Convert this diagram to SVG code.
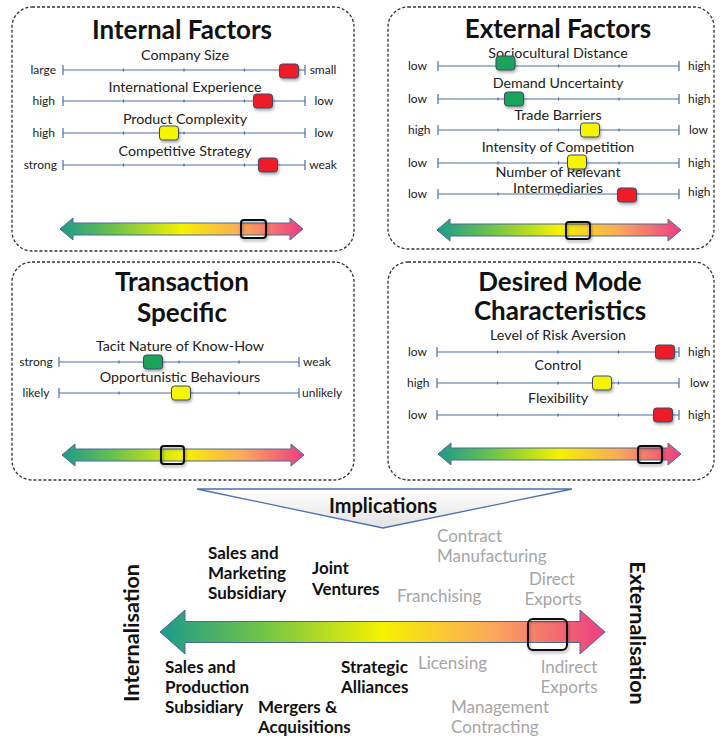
<svg xmlns="http://www.w3.org/2000/svg" width="720" height="740" viewBox="0 0 720 740">
<defs>
<linearGradient id="spec" x1="0" y1="0" x2="1" y2="0">
<stop offset="0" stop-color="#1e9a8a"/>
<stop offset="0.22" stop-color="#6cc24a"/>
<stop offset="0.5" stop-color="#f6f200"/>
<stop offset="0.75" stop-color="#fba75c"/>
<stop offset="1" stop-color="#ec3d82"/>
</linearGradient>
<linearGradient id="tri" x1="0" y1="0" x2="0" y2="1">
<stop offset="0" stop-color="#ffffff"/>
<stop offset="1" stop-color="#e2e2e2"/>
</linearGradient>
<filter id="sh" x="-30%" y="-30%" width="170%" height="180%">
<feDropShadow dx="1" dy="2" stdDeviation="1.5" flood-color="#000" flood-opacity="0.35"/>
</filter>
<style>
.panel{fill:none;stroke:#333;stroke-width:1.3;stroke-dasharray:3,2}
.title{font-family:Lato,"Open Sans",sans-serif;font-weight:bold;font-size:26px;fill:#111;text-anchor:middle}
.lbl{font-family:Lato,"Open Sans",sans-serif;font-size:14.3px;fill:#222;text-anchor:middle}
.ax{font-family:Lato,"Open Sans",sans-serif;font-size:12px;fill:#222}
.sl{fill:none;stroke:#4a6fa5;stroke-width:1.2}
.mk{stroke:#3a4a6a;stroke-width:1;filter:url(#sh)}
.red{fill:#ee1c25}.yel{fill:#f5f500}.grn{fill:#1ea35a}
.arr{fill:url(#spec);stroke:#4a6a9a;stroke-width:1}
.box{fill:none;stroke:#111;stroke-width:2;filter:url(#sh)}
.b{font-family:Lato,"Open Sans",sans-serif;font-weight:bold;font-size:17px;fill:#111}
.g{font-family:Lato,"Open Sans",sans-serif;font-size:17px;fill:#a6a6a6}
.side{font-family:Lato,"Open Sans",sans-serif;font-weight:bold;font-size:21.5px;fill:#111;text-anchor:middle}
</style>
</defs>

<g id="internal-factors">
<rect class="panel" x="12" y="7" width="342" height="244" rx="20"/>
<text class="title" x="182" y="39">Internal Factors</text>
<text class="lbl" x="185" y="60">Company Size</text>
<text class="lbl" x="185" y="92">International Experience</text>
<text class="lbl" x="185" y="124">Product Complexity</text>
<text class="lbl" x="185" y="156">Competitive Strategy</text>
<g class="ax" text-anchor="end">
<text x="56" y="74">large</text><text x="55" y="105">high</text><text x="55" y="137">high</text><text x="57" y="169">strong</text>
</g>
<g class="ax" text-anchor="middle">
<text x="323" y="74">small</text><text x="324" y="105">low</text><text x="324" y="137">low</text><text x="323" y="169">weak</text>
</g>
<path class="sl" d="M63 70H305M63 65V75M305 65V75M123.5 68.5V71.5M184 68.5V71.5M244.5 68.5V71.5
M63 101H305M63 96V106M305 96V106M123.5 99.5V102.5M184 99.5V102.5M244.5 99.5V102.5
M63 133H305M63 128V138M305 128V138M123.5 131.5V134.5M184 131.5V134.5M244.5 131.5V134.5
M63 165H305M63 160V170M305 160V170M123.5 163.5V166.5M184 163.5V166.5M244.5 163.5V166.5"/>
<rect class="mk red" x="279.5" y="64" width="19" height="14" rx="3"/>
<rect class="mk red" x="253.5" y="94" width="19" height="14" rx="3"/>
<rect class="mk yel" x="159.5" y="126" width="19" height="14" rx="3"/>
<rect class="mk red" x="258.5" y="158" width="19" height="14" rx="3"/>
<path class="arr" d="M60 229L73 218V223H290V218L303 229L290 240V235H73V240Z"/>
<rect class="box" x="241" y="220" width="25" height="18" rx="3"/>
</g>

<g id="external-factors">
<rect class="panel" x="388" y="7" width="326" height="242" rx="20"/>
<text class="title" x="558" y="38">External Factors</text>
<text class="lbl" x="558" y="58">Sociocultural Distance</text>
<text class="lbl" x="558" y="88">Demand Uncertainty</text>
<text class="lbl" x="558" y="120">Trade Barriers</text>
<text class="lbl" x="558" y="152">Intensity of Competition</text>
<text class="lbl" x="558" y="177">Number of Relevant</text>
<text class="lbl" x="558" y="193">Intermediaries</text>
<g class="ax">
<text x="408" y="70">low</text><text x="408" y="103">low</text><text x="408" y="134">high</text><text x="408" y="167">low</text><text x="408" y="198">low</text>
<text x="688" y="70">high</text><text x="688" y="103">high</text><text x="689" y="134">low</text><text x="688" y="167">high</text><text x="688" y="196">high</text>
</g>
<path class="sl" d="M438 66H679M438 61V71M679 61V71M498 64.5V67.5M558.5 64.5V67.5M619 64.5V67.5
M438 99H679M438 94V104M679 94V104M498 97.5V100.5M558.5 97.5V100.5M619 97.5V100.5
M438 130H679M438 125V135M679 125V135M498 128.5V131.5M558.5 128.5V131.5M619 128.5V131.5
M438 163H679M438 158V168M679 158V168M498 161.5V164.5M558.5 161.5V164.5M619 161.5V164.5
M438 194H679M438 189V199M679 189V199M498 192.5V195.5M558.5 192.5V195.5M619 192.5V195.5"/>
<rect class="mk grn" x="496" y="56" width="19" height="14" rx="3"/>
<rect class="mk grn" x="504.5" y="92" width="19" height="14" rx="3"/>
<rect class="mk yel" x="580.5" y="123" width="19" height="14" rx="3"/>
<rect class="mk yel" x="567.5" y="155" width="19" height="14" rx="3"/>
<rect class="mk red" x="617.5" y="188" width="19" height="14" rx="3"/>
<path class="arr" d="M437 230L450 219V224H668V219L681 230L668 241V236H450V241Z"/>
<rect class="box" x="566" y="222" width="24" height="17" rx="3"/>
</g>

<g id="transaction-specific">
<rect class="panel" x="12" y="262" width="342" height="218" rx="20"/>
<text class="title" x="182" y="291">Transaction</text>
<text class="title" x="182" y="322">Specific</text>
<text class="lbl" x="180" y="351">Tacit Nature of Know-How</text>
<text class="lbl" x="180" y="382">Opportunistic Behaviours</text>
<g class="ax" text-anchor="middle">
<text x="36" y="366">strong</text><text x="36" y="397">likely</text>
</g>
<g class="ax">
<text x="303" y="366">weak</text><text x="302" y="397">unlikely</text>
</g>
<path class="sl" d="M59 362H299M59 357V367M299 357V367M119 360.5V363.5M179 360.5V363.5M239 360.5V363.5
M59 393H299M59 388V398M299 388V398M119 391.5V394.5M179 391.5V394.5M239 391.5V394.5"/>
<rect class="mk grn" x="143.5" y="355" width="19" height="14" rx="3"/>
<rect class="mk yel" x="171.5" y="386" width="19" height="14" rx="3"/>
<path class="arr" d="M62 455L75 444V449H291V444L304 455L291 466V461H75V466Z"/>
<rect class="box" x="161" y="446" width="23" height="18" rx="3"/>
</g>

<g id="desired-mode">
<rect class="panel" x="388" y="262" width="326" height="218" rx="20"/>
<text class="title" x="560" y="291">Desired Mode</text>
<text class="title" x="560" y="320">Characteristics</text>
<text class="lbl" x="558" y="340">Level of Risk Aversion</text>
<text class="lbl" x="558" y="370">Control</text>
<text class="lbl" x="558" y="403">Flexibility</text>
<g class="ax">
<text x="408" y="356">low</text><text x="407" y="387">high</text><text x="408" y="419">low</text>
<text x="688" y="356">high</text><text x="690" y="387">low</text><text x="688" y="419">high</text>
</g>
<path class="sl" d="M437 352H679M437 347V357M679 347V357M497.5 350.5V353.5M558 350.5V353.5M618.5 350.5V353.5
M437 383H679M437 378V388M679 378V388M497.5 381.5V384.5M558 381.5V384.5M618.5 381.5V384.5
M437 415H679M437 410V420M679 410V420M497.5 413.5V416.5M558 413.5V416.5M618.5 413.5V416.5"/>
<rect class="mk red" x="655.5" y="345" width="19" height="14" rx="3"/>
<rect class="mk yel" x="592.5" y="376" width="19" height="14" rx="3"/>
<rect class="mk red" x="653.5" y="408" width="19" height="14" rx="3"/>
<path class="arr" d="M438 454L451 443V448H668V443L681 454L668 465V460H451V465Z"/>
<rect class="box" x="638" y="446" width="24" height="17" rx="3"/>
</g>

<g id="implications">
<path d="M197 489H572L383 528Z" fill="url(#tri)" stroke="#4a72b0" stroke-width="1.3"/>
<text x="383" y="513" font-family="Lato,'Open Sans',sans-serif" font-weight="bold" font-size="20" fill="#111" text-anchor="middle">Implications</text>
</g>

<g id="mode-spectrum">
<path class="arr" d="M160 632L185 610V621.5H580V610L605 632L580 654V642.5H185V654Z"/>
<rect class="box" x="528" y="619" width="39" height="31" rx="5" stroke-width="2.5"/>
</g>

<g id="side-labels">
<text class="side" transform="translate(139 633) rotate(-90)">Internalisation</text>
<text class="side" transform="translate(630 633) rotate(90)">Externalisation</text>
</g>

<g id="modes">
<text class="b" x="208" y="559">Sales and</text>
<text class="b" x="208" y="579">Marketing</text>
<text class="b" x="208" y="599">Subsidiary</text>
<text class="b" x="312" y="574">Joint</text>
<text class="b" x="312" y="595">Ventures</text>
<text class="g" x="437" y="542">Contract</text>
<text class="g" x="437" y="562">Manufacturing</text>
<text class="g" x="397" y="602">Franchising</text>
<text class="g" x="552" y="585" text-anchor="middle">Direct</text>
<text class="g" x="553" y="605" text-anchor="middle">Exports</text>
<text class="b" x="165" y="673">Sales and</text>
<text class="b" x="165" y="693">Production</text>
<text class="b" x="165" y="713">Subsidiary</text>
<text class="b" x="341" y="673">Strategic</text>
<text class="b" x="341" y="693">Alliances</text>
<text class="b" x="258" y="713">Mergers &amp;</text>
<text class="b" x="258" y="733">Acquisitions</text>
<text class="g" x="418" y="669">Licensing</text>
<text class="g" x="569" y="673" text-anchor="middle">Indirect</text>
<text class="g" x="569" y="693" text-anchor="middle">Exports</text>
<text class="g" x="451" y="713">Management</text>
<text class="g" x="451" y="733">Contracting</text>
</g>
</svg>
